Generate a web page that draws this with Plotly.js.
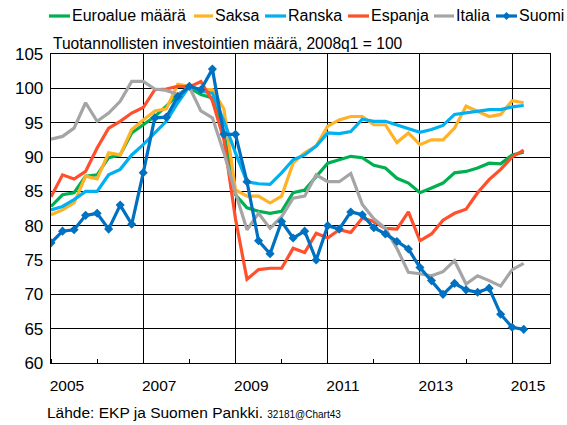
<!DOCTYPE html>
<html>
<head>
<meta charset="utf-8">
<script src="https://cdn.plot.ly/plotly-3.0.1.min.js"></script>
<style>html,body{margin:0;padding:0;background:#fff;}#chart{width:567px;height:425px;}</style>
</head>
<body>
<div id="chart"></div>
<script>
// Quarterly data 2005q1 .. 2015q2 (2008q1 = 100)
const startYear = 2005;
const nQuarters = 42;
const quarters = Array.from({length: nQuarters}, (_, i) => startYear + i * 0.25);

const seriesNames = ["Euroalue määrä", "Saksa", "Ranska", "Espanja", "Italia", "Suomi"];

const euroalue = [82.8, 84.5, 84.8, 87.2, 87.4, 89.9, 90.3, 93.5, 94.7, 95.9, 97.4, 99.1, 100.1, 99.1, 98.6,
  93.5, 84.5, 82.6, 82.1, 81.8, 82.1, 84.8, 85.2, 87.2, 89.1, 89.6, 90.1, 89.9,
  88.8, 88.4, 86.9, 86.2, 84.8, 85.5, 86.2, 87.7, 87.9, 88.4, 89.1, 89.0, 90.3, 90.7];
const saksa = [81.6, 82.3, 83.3, 87.2, 86.8, 90.6, 90.3, 94.0, 95.4, 96.7, 97.0, 100.6, 100.3, 99.8, 99.8,
  97.0, 85.2, 84.3, 84.3, 83.3, 84.3, 89.1, 90.6, 91.6, 94.5, 95.4, 95.9, 95.9,
  94.7, 94.7, 92.1, 93.5, 91.8, 92.5, 92.5, 94.2, 97.4, 96.7, 95.9, 96.2, 98.2, 97.9];
const ranska = [82.3, 82.8, 83.8, 85.0, 85.0, 87.4, 88.2, 90.3, 91.8, 93.5, 95.2, 97.9, 100.3, 99.6, 99.3,
  95.2, 90.6, 86.4, 86.1, 86.0, 87.7, 89.6, 90.3, 91.6, 93.5, 93.4, 93.7, 95.5,
  95.2, 95.2, 94.7, 94.2, 93.6, 94.0, 94.6, 96.2, 96.4, 96.7, 96.9, 96.9, 97.3, 97.5];
const espanja = [84.2, 87.4, 86.8, 87.9, 91.3, 94.2, 95.2, 96.4, 97.2, 99.8, 99.9, 100.3, 100.2, 101.0, 98.2,
  92.5, 81.0, 72.2, 73.6, 73.8, 73.8, 76.7, 76.1, 78.9, 78.2, 79.4, 79.0, 81.1,
  80.6, 79.6, 79.5, 82.0, 77.8, 78.8, 80.8, 81.8, 82.4, 84.8, 86.7, 88.2, 90.0, 91.0];
const italia = [92.6, 93.0, 94.2, 97.9, 95.2, 96.4, 98.1, 101.0, 101.0, 99.9, 99.7, 99.1, 100.2, 96.7, 95.7,
  90.6, 84.8, 79.4, 81.8, 79.6, 81.3, 84.0, 84.3, 87.4, 86.4, 86.4, 87.6, 83.1,
  81.0, 79.6, 76.7, 73.2, 73.0, 72.7, 73.3, 74.9, 71.5, 72.7, 72.0, 71.2, 73.6, 74.5];
const suomi = [77.5, 79.2, 79.4, 81.5, 81.8, 79.5, 83.0, 80.2, 87.7, 95.7, 95.8, 98.8, 100.3, 99.8, 102.8,
  93.3, 93.3, 86.4, 77.8, 75.9, 80.6, 78.2, 79.2, 75.0, 80.0, 79.5, 82.0, 81.6,
  79.7, 78.8, 77.7, 76.6, 73.9, 72.0, 70.0, 71.6, 70.65, 70.3, 70.9, 67.1, 65.2, 64.9];

const yearTicks = [2005, 2007, 2009, 2011, 2013, 2015];
const yearLabels = ["2005", "2007", "2009", "2011", "2013", "2015"];

const allValues = [euroalue, saksa, ranska, espanja, italia, suomi];
const colors = ["#00B050", "#FFB226", "#00B0F0", "#FF4F2B", "#A5A5A5", "#0070C0"];

const FONT = "Liberation Sans, Arial, sans-serif";

const traces = allValues.map((vals, k) => {
  const t = {
    x: quarters, y: vals, name: seriesNames[k], type: "scatter",
    mode: k === 5 ? "lines+markers" : "lines",
    line: {color: colors[k], width: 3.2},
    hoverinfo: "x+y+name"
  };
  if (k === 5) t.marker = {symbol: "diamond", size: 7, color: colors[k]};
  return t;
});

// layout geometry helpers (pixel -> paper)
const M = {l: 51, r: 17, t: 54, b: 62};
const W = 567, H = 425;
const pw = W - M.l - M.r, ph = H - M.t - M.b;
const px = x => (x - M.l) / pw;
const py = y => (H - M.b - y) / ph;

// manual legend layout (pixel positions)
const legendPos = [
  {x0: 49, x1: 70, tx: 70},
  {x0: 194, x1: 213, tx: 213},
  {x0: 265, x1: 286, tx: 286},
  {x0: 348, x1: 369, tx: 369},
  {x0: 434, x1: 454, tx: 454},
  {x0: 496, x1: 517, tx: 517}
];
const legY = 16;
const shapes = [];
const annotations = [];
legendPos.forEach((p, k) => {
  shapes.push({type: "line", xref: "paper", yref: "paper",
    x0: px(p.x0), x1: px(p.x1), y0: py(legY), y1: py(legY),
    line: {color: colors[k], width: 3.2}});
  annotations.push({xref: "paper", yref: "paper", x: px(p.tx), y: py(legY),
    xanchor: "left", yanchor: "middle", showarrow: false, text: seriesNames[k],
    font: {family: FONT, size: 16, color: "#000"}});
});
// Suomi legend diamond
const dc = (legendPos[5].x0 + legendPos[5].x1) / 2;
shapes.push({type: "path", xref: "paper", yref: "paper",
  path: `M ${px(dc)} ${py(legY - 4)} L ${px(dc + 4)} ${py(legY)} L ${px(dc)} ${py(legY + 4)} L ${px(dc - 4)} ${py(legY)} Z`,
  fillcolor: colors[5], line: {color: colors[5], width: 0}});

annotations.push({xref: "paper", yref: "paper", x: px(51), y: py(43),
  xanchor: "left", yanchor: "middle", showarrow: false,
  text: "Tuotannollisten investointien määrä, 2008q1 = 100",
  font: {family: FONT, size: 15.6, color: "#000"}});
annotations.push({xref: "paper", yref: "paper", x: px(45), y: py(412),
  xanchor: "left", yanchor: "middle", showarrow: false,
  text: "Lähde: EKP ja Suomen Pankki. <span style='font-size:10px'>32181@Chart43</span>",
  font: {family: FONT, size: 15.5, color: "#000"}});

const layout = {
  width: W, height: H,
  margin: M,
  paper_bgcolor: "#fff", plot_bgcolor: "#fff",
  showlegend: false,
  font: {family: FONT, color: "#000"},
  xaxis: {
    range: [2005, 2015.82], tickmode: "array", tickvals: yearTicks, ticktext: yearLabels,
    ticks: "", showgrid: true, gridcolor: "#000", gridwidth: 1,
    showline: true, linecolor: "#000", linewidth: 1.3, mirror: true,
    zeroline: false, ticklabelposition: "outside right", ticklabelshift: -2, ticklabelstandoff: 8,
    tickfont: {family: FONT, size: 15.5, color: "#000"},
    minor: {tick0: 2005, dtick: 1, ticks: "inside", ticklen: 4, tickcolor: "#000", tickwidth: 1, showgrid: false}
  },
  yaxis: {
    range: [60, 105], tickmode: "linear", tick0: 60, dtick: 5,
    ticks: "", showgrid: true, gridcolor: "#000", gridwidth: 1,
    showline: true, linecolor: "#000", linewidth: 1.3, mirror: true,
    zeroline: false, ticklabelstandoff: 3,
    tickfont: {family: FONT, size: 17, color: "#000"}
  },
  shapes: shapes,
  annotations: annotations
};

Plotly.newPlot("chart", traces, layout, {displayModeBar: false, staticPlot: true});
</script>
</body>
</html>
